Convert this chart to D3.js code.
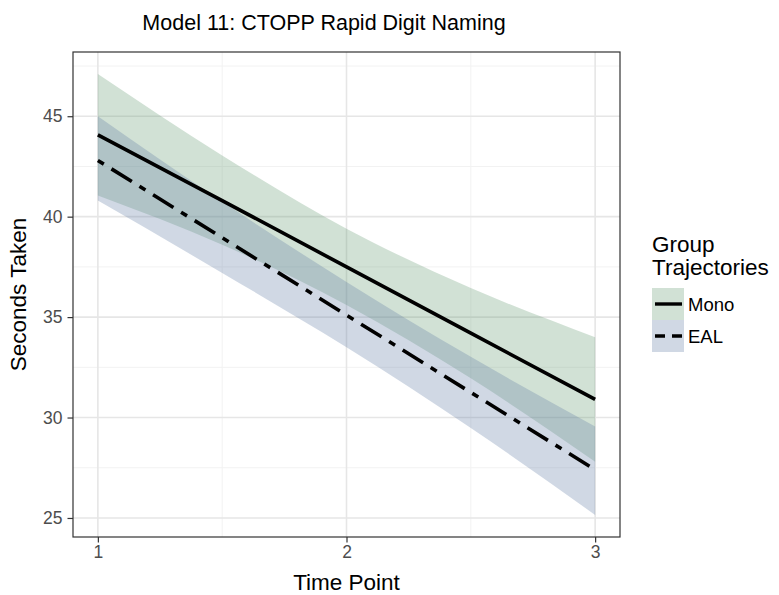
<!DOCTYPE html>
<html>
<head>
<meta charset="utf-8">
<script src="https://cdn.jsdelivr.net/npm/d3@7"></script>
<style>
  body { margin: 0; background: #fff; }
  text { font-family: "Liberation Sans", Arial, sans-serif; }
</style>
</head>
<body>
<svg id="chart" width="779" height="595"></svg>
<script>
// Values
const timePoints = [1, 1.5, 2, 2.5, 3];
const groups = ["Mono", "EAL"];
const monoFit = [44.07, 40.8, 37.5, 34.2, 30.9];
const monoLower = [41.05, 38.6, 35.6, 31.95, 27.8];
const monoUpper = [47.1, 43.05, 39.4, 36.45, 34.0];
const ealFit = [42.8, 38.95, 35.1, 31.25, 27.4];
const ealLower = [40.8, 37.2, 33.5, 29.48, 25.15];
const ealUpper = [45.0, 40.75, 36.75, 33.02, 29.55];
const xTicks = [1, 2, 3];
const yTicks = [25, 30, 35, 40, 45];

const svg = d3.select('#chart');
const panel = {left: 73, right: 620, top: 52, bottom: 537};

// ggplot style 5% expansion
const xExt = d3.extent(timePoints);
const xPad = (xExt[1] - xExt[0]) * 0.05;
const x = d3.scaleLinear().domain([xExt[0] - xPad, xExt[1] + xPad]).range([panel.left, panel.right]);

const allY = monoLower.concat(monoUpper, ealLower, ealUpper);
const yExt = d3.extent(allY);
const yPad = (yExt[1] - yExt[0]) * 0.05;
const y = d3.scaleLinear().domain([yExt[0] - yPad, yExt[1] + yPad]).range([panel.bottom, panel.top]);

const series = [
    {name: groups[0], fit: monoFit, lower: monoLower, upper: monoUpper,
     fill: "rgb(102,155,115)", dash: null, keyDash: null},
    {name: groups[1], fit: ealFit, lower: ealLower, upper: ealUpper,
     fill: "rgb(98,125,165)", dash: "7,9,24,9", keyDash: "10,7"}
];
const fillAlpha = 0.3;

// grid
const grid = svg.append('g');
const xMinor = [1.5, 2.5];
const yMinor = [27.5, 32.5, 37.5, 42.5, 47.5];
grid.selectAll('line.ymin').data(yMinor).join('line')
    .attr('x1', panel.left).attr('x2', panel.right)
    .attr('y1', d => y(d)).attr('y2', d => y(d))
    .attr('stroke', '#f2f2f2').attr('stroke-width', 1);
grid.selectAll('line.xmin').data(xMinor).join('line')
    .attr('y1', panel.top).attr('y2', panel.bottom)
    .attr('x1', d => x(d)).attr('x2', d => x(d))
    .attr('stroke', '#f2f2f2').attr('stroke-width', 1);
grid.selectAll('line.ymaj').data(yTicks).join('line')
    .attr('x1', panel.left).attr('x2', panel.right)
    .attr('y1', d => y(d)).attr('y2', d => y(d))
    .attr('stroke', '#e6e6e6').attr('stroke-width', 1.6);
grid.selectAll('line.xmaj').data(xTicks).join('line')
    .attr('y1', panel.top).attr('y2', panel.bottom)
    .attr('x1', d => x(d)).attr('x2', d => x(d))
    .attr('stroke', '#e6e6e6').attr('stroke-width', 1.6);

// ribbons
const area = d3.area()
    .curve(d3.curveMonotoneX)
    .x((d, i) => x(timePoints[i]))
    .y0(d => y(d[0]))
    .y1(d => y(d[1]));
for (let s of series) {
    svg.append('path')
        .datum(s.lower.map((v, i) => [v, s.upper[i]]))
        .attr('d', area)
        .attr('fill', s.fill)
        .attr('fill-opacity', fillAlpha);
}

// fitted lines
const line = d3.line()
    .x((d, i) => x(timePoints[i]))
    .y(d => y(d));
for (let s of series) {
    svg.append('path')
        .datum(s.fit)
        .attr('d', line)
        .attr('fill', 'none')
        .attr('stroke', '#000')
        .attr('stroke-width', 3.6)
        .attr('stroke-dasharray', s.dash);
}

// panel border
svg.append('rect')
    .attr('x', panel.left).attr('y', panel.top)
    .attr('width', panel.right - panel.left).attr('height', panel.bottom - panel.top)
    .attr('fill', 'none').attr('stroke', '#333').attr('stroke-width', 1.2);

// axes
const xAxis = svg.append('g')
    .attr('transform', 'translate(0,' + panel.bottom + ')')
    .call(d3.axisBottom(x).tickValues(xTicks).tickSize(5.5).tickPadding(3).tickFormat(d3.format('d')));
const yAxis = svg.append('g')
    .attr('transform', 'translate(' + panel.left + ',0)')
    .call(d3.axisLeft(y).tickValues(yTicks).tickSize(5.5).tickPadding(5).tickFormat(d3.format('d')));
for (let ax of [xAxis, yAxis]) {
    ax.select('.domain').remove();
    ax.selectAll('.tick line').attr('stroke', '#333').attr('stroke-width', 1.2);
    ax.selectAll('.tick text')
        .attr('fill', '#4d4d4d')
        .style('font-size', '17.5px')
        .style('font-family', '"Liberation Sans", Arial, sans-serif');
}

// titles
svg.append('text')
    .attr('x', 324).attr('y', 30)
    .attr('text-anchor', 'middle')
    .style('font-size', '21.5px')
    .text('Model 11: CTOPP Rapid Digit Naming');
svg.append('text')
    .attr('x', (panel.left + panel.right) / 2).attr('y', 590)
    .attr('text-anchor', 'middle')
    .style('font-size', '22.5px')
    .text('Time Point');
svg.append('text')
    .attr('transform', 'translate(26,' + (panel.top + panel.bottom) / 2 + ') rotate(-90)')
    .attr('text-anchor', 'middle')
    .style('font-size', '22.5px')
    .text('Seconds Taken');

// legend
const legend = svg.append('g').attr('transform', 'translate(652,0)');
legend.append('text').attr('x', 0).attr('y', 252).style('font-size', '22.5px').text('Group');
legend.append('text').attr('x', 0).attr('y', 275).style('font-size', '22.5px').text('Trajectories');
const keys = legend.selectAll('g.key').data(series).join('g')
    .attr('transform', (d, i) => 'translate(0,' + (288 + i * 32) + ')');
keys.append('rect')
    .attr('width', 32).attr('height', 32)
    .attr('fill', d => d.fill).attr('fill-opacity', fillAlpha);
keys.append('line')
    .attr('x1', 3).attr('x2', 30).attr('y1', 16).attr('y2', 16)
    .attr('stroke', '#000').attr('stroke-width', 3.4)
    .attr('stroke-dasharray', d => d.keyDash);
keys.append('text')
    .attr('x', 36).attr('y', 22.5)
    .style('font-size', '18.5px')
    .text(d => d.name);
</script>
</body>
</html>
